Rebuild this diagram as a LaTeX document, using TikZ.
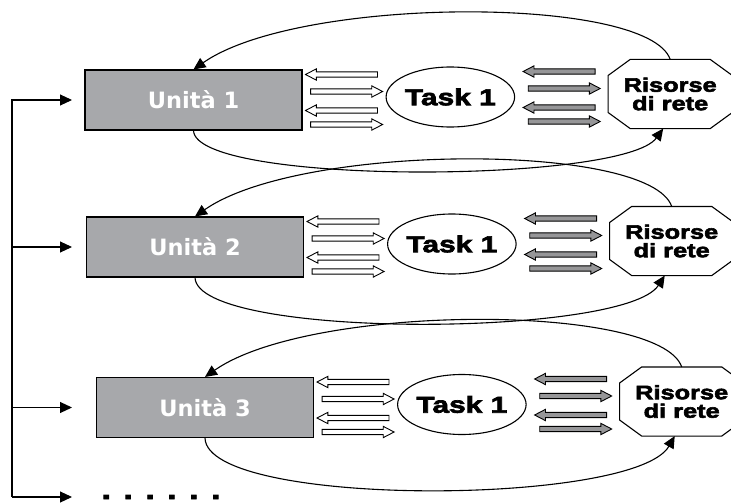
\documentclass[tikz,border=0pt]{standalone}
\usepackage{fontspec}
\setmainfont{DejaVu Sans}
\newfontfamily\heavyfont{Liberation Sans}[FakeBold=3, FakeStretch=1.3]
\usetikzlibrary{positioning, calc, arrows.meta, shapes.geometric, shapes.arrows}
\definecolor{unitgray}{RGB}{167,168,171}
\definecolor{flowgray}{RGB}{150,150,152}

\begin{document}
\begin{tikzpicture}[x=1pt, y=-1pt, line width=1.1pt, >={Triangle[length=12pt, width=11pt]},
    unit/.style={rectangle, draw, fill=unitgray, minimum width=217pt, minimum height=60pt, text=white, font=\bfseries\fontsize{22.5}{24}\selectfont},
    task/.style={ellipse, draw, minimum width=122pt, minimum height=60pt, inner sep=0pt, font=\heavyfont\bfseries\fontsize{23}{24}\selectfont},
    res/.style={rectangle, minimum width=123pt, minimum height=68pt, inner sep=0pt, align=center, font=\heavyfont\bfseries\fontsize{19.5}{18.5}\selectfont},
    flow/.style={single arrow, draw, minimum height=72pt, inner sep=2.2pt, single arrow head extend=3pt, single arrow tip angle=55, line width=0.9pt},
    whiteflow/.style={flow, fill=white},
    greyflow/.style={flow, fill=flowgray}]
        \useasboundingbox (0,0) rectangle (731,503);

        % Rows: unit, task, network resources
        \foreach \r/\x/\y in {1/193.5/100, 2/195/247, 3/205/407.5} {
            \node[unit] (u\r) at (\x,\y) {Unità \r};
            \node[task, right=83pt of u\r, yshift=3pt] (t\r) {Task 1};
            \node[res, right=93pt of t\r, yshift=3pt] (r\r) {Risorse\\di rete};
            % octagon round the resources
            \draw ([xshift=22pt]r\r.north west) -- ([xshift=-22pt]r\r.north east) -- ([yshift=-16pt]r\r.north east)
                -- ([yshift=16pt]r\r.south east) -- ([xshift=-22pt]r\r.south east) -- ([xshift=22pt]r\r.south west)
                -- ([yshift=16pt]r\r.south west) -- ([yshift=-16pt]r\r.north west) -- cycle;
        }

        % Exchanges between unit, task and resources
        \foreach \r in {1,2,3}
            \foreach \dy/\rot [count=\i] in {-24/180, -7/0, 12/180, 26/0} {
                \node[whiteflow, shape border rotate=\rot] (w-\r-\i) at ($(u\r.east)!0.5!(t\r.west) + (0,\dy)$) {};
                \node[greyflow, shape border rotate=\rot] (g-\r-\i) at ($(t\r.east)!0.5!(r\r.west) + (0,\dy)$) {};
            }

        % Loops round each row
        \foreach \r/\dep in {1/55, 2/62, 3/70} {
            \draw[->] (r\r.north) .. controls +(-22,-64) and +(106,-74) .. (u\r.north);
            \draw[->] (u\r.south) .. controls +(2,\dep) and +(-40,\dep) .. ([xshift=-7pt]r\r.south);
        }

        % Feed line on the left
        \coordinate (bus) at (12,100);
        \coordinate (busend) at (12,497);
        \draw[->] (busend) -- (bus) -- ++(60,0);
        \foreach \r in {2,3}
            \draw[->] (bus |- u\r.west) -- ++(60,0);
        \draw[->] (busend) -- ++(60,0);
        \node[anchor=base west, inner sep=0pt, font=\heavyfont\bfseries\fontsize{26}{26}\selectfont] (more) at (101,499) {. . . . . .};

\end{tikzpicture}
\end{document}
